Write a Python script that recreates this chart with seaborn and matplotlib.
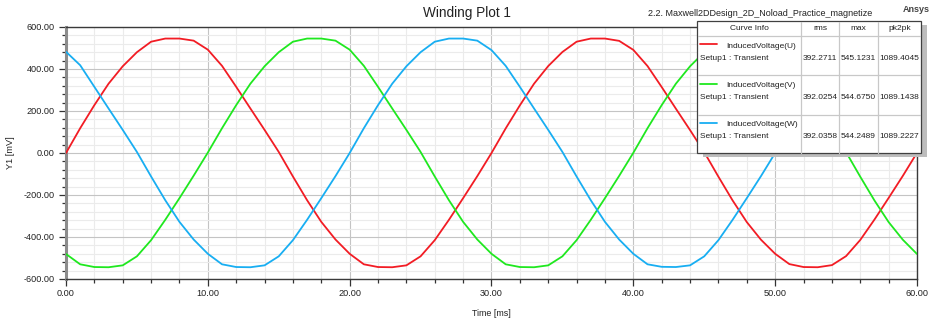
import matplotlib
matplotlib.use("Agg")
import matplotlib.pyplot as plt
import pandas as pd
import seaborn as sns
from matplotlib.ticker import MultipleLocator, FormatStrFormatter
from matplotlib.patches import Rectangle
from matplotlib.lines import Line2D

# ---------------- data ----------------
time_ms = [0, 1, 2, 3, 4, 5, 6, 7, 8, 9,
           10, 11, 12, 13, 14, 15, 16, 17, 18, 19,
           20, 21, 22, 23, 24, 25, 26, 27, 28, 29,
           30, 31, 32, 33, 34, 35, 36, 37, 38, 39,
           40, 41, 42, 43, 44, 45, 46, 47, 48, 49,
           50, 51, 52, 53, 54, 55, 56, 57, 58, 59, 60]

voltage_u = [0, 118, 228, 330, 413, 480, 530, 545, 545, 535,
             492, 415, 315, 212, 110, 5, -112, -225, -328, -412,
             -480, -530, -543, -544, -535, -492, -415, -318, -215, -110,
             0, 117, 227, 330, 414, 481, 530, 545, 545, 534,
             491, 414, 314, 211, 109, 4, -113, -226, -329, -413,
             -480, -529, -543, -544, -534, -491, -414, -317, -214, -109, 1]

voltage_v = [-481, -530, -543, -544, -535, -492, -415, -318, -215, -108,
             2, 118, 228, 330, 413, 480, 530, 545, 545, 535,
             492, 415, 315, 212, 110, 5, -112, -225, -328, -412,
             -480, -530, -543, -544, -535, -492, -415, -318, -215, -109,
             1, 118, 228, 330, 413, 480, 530, 544, 544, 534,
             491, 414, 314, 211, 109, 4, -113, -226, -329, -413, -481]

voltage_w = [482, 418, 315, 212, 110, 5, -112, -225, -328, -412,
             -480, -530, -543, -544, -535, -492, -415, -318, -215, -110,
             0, 118, 228, 330, 413, 480, 530, 545, 545, 535,
             490, 415, 315, 212, 110, 5, -112, -225, -328, -412,
             -480, -530, -542, -543, -535, -492, -415, -318, -215, -110,
             0, 118, 228, 330, 413, 480, 530, 544, 544, 534, 490]

curve_names = ["InducedVoltage(U)", "InducedVoltage(V)", "InducedVoltage(W)"]
curve_colors = ["#f21c24", "#1fe81f", "#18aef2"]
setup_label = "Setup1 : Transient"
stat_headers = ["Curve Info", "rms", "max", "pk2pk"]
rms_vals = ["392.2711", "392.0254", "392.0358"]
max_vals = ["545.1231", "544.6750", "544.2489"]
pk2pk_vals = ["1089.4045", "1089.1438", "1089.2227"]

x_ticks = [0, 10, 20, 30, 40, 50, 60]
y_ticks = [-600, -400, -200, 0, 200, 400, 600]

title_text = "Winding Plot 1"
design_text = "2.2. Maxwell2DDesign_2D_Noload_Practice_magnetize"
brand_text = "Ansys"
x_label = "Time [ms]"
y_label = "Y1 [mV]"

# ---------------- figure ----------------
sns.set_theme(style="white")
plt.rcParams["font.family"] = ["Liberation Sans", "DejaVu Sans"]
plt.rcParams["axes.unicode_minus"] = False

W, H = 937, 318
fig = plt.figure(figsize=(W / 100, H / 100), dpi=100)
fig.patch.set_facecolor("white")


def fx(px):
    return px / W


def fy(py):
    return 1 - py / H


ax = fig.add_axes([fx(66), fy(279), fx(917) - fx(66), fy(27) - fy(279)])

df = pd.concat([
    pd.DataFrame({"time": time_ms, "value": vals, "curve": name})
    for name, vals in zip(curve_names, [voltage_u, voltage_v, voltage_w])
])
sns.lineplot(data=df, x="time", y="value", hue="curve", hue_order=curve_names,
             palette=dict(zip(curve_names, curve_colors)), linewidth=1.3,
             legend=False, ax=ax, zorder=3)

ax.set_xlim(x_ticks[0], x_ticks[-1])
ax.set_ylim(y_ticks[0], y_ticks[-1])
ax.set_xticks(x_ticks)
ax.set_yticks(y_ticks)
ax.xaxis.set_minor_locator(MultipleLocator(2))
ax.yaxis.set_minor_locator(MultipleLocator(40))
ax.xaxis.set_major_formatter(FormatStrFormatter("%.2f"))
ax.yaxis.set_major_formatter(FormatStrFormatter("%.2f"))

ax.grid(which="major", color="#c4c4c4", linewidth=0.8, zorder=0)
ax.grid(which="minor", color="#ebebeb", linewidth=0.8, zorder=0)
ax.set_axisbelow(True)

ax.tick_params(axis="both", which="major", direction="out", length=5, width=0.9,
               color="#333333", labelsize=6.6, labelcolor="#222222",
               bottom=True, left=True, top=False, right=False)
ax.tick_params(axis="both", which="minor", direction="out", length=2.6, width=0.9,
               color="#333333", bottom=True, left=True, top=False, right=False)
ax.tick_params(axis="x", which="major", pad=2.5)
ax.tick_params(axis="y", which="major", pad=3.2)

for side in ["top", "right", "bottom"]:
    ax.spines[side].set_visible(True)
    ax.spines[side].set_color("#3a3a3a")
    ax.spines[side].set_linewidth(1.0)
ax.spines["left"].set_color("#8c8c8c")
ax.spines["left"].set_linewidth(2.2)

ax.set_xlabel(x_label, fontsize=6.4, color="#222222", labelpad=5)
ax.set_ylabel(y_label, fontsize=6.6, color="#222222", labelpad=6)
ax.xaxis.set_label_coords(0.5, (fy(309) - fy(279)) / (fy(27) - fy(279)))
ax.yaxis.set_label_coords((fx(15) - fx(66)) / (fx(917) - fx(66)), 0.5)

fig.text(fx(467), fy(13), title_text, ha="center", va="center", fontsize=9.8, color="#222222")
fig.text(fx(648), fy(13), design_text, ha="left", va="center", fontsize=6.5, color="#222222")
fig.text(fx(916), fy(10), brand_text, ha="center", va="center", fontsize=6.5,
         fontweight="bold", color="#444444")

# ---------------- curve info table (legend) ----------------
box_l, box_r, box_t, box_b = 697, 921, 21, 153
col_edges = [697, 801, 839, 878, 921]
header_bottom = 36
row_h = 39.3

fig.add_artist(Rectangle((fx(box_l + 6), fy(box_b + 4)), fx(box_r - box_l), fy(box_t) - fy(box_b),
                         transform=fig.transFigure, facecolor="#bdbdbd", edgecolor="none", zorder=10))
fig.add_artist(Rectangle((fx(box_l), fy(box_b)), fx(box_r - box_l), fy(box_t) - fy(box_b),
                         transform=fig.transFigure, facecolor="white", edgecolor="#404040",
                         linewidth=0.9, zorder=11))

sep_color = "#c8c8c8"
for xc in col_edges[1:-1]:
    fig.add_artist(Line2D([fx(xc), fx(xc)], [fy(box_t + 0.5), fy(box_b - 0.5)],
                          transform=fig.transFigure, color=sep_color, linewidth=0.9, zorder=12))
for i in range(3):
    yl = header_bottom + i * row_h
    fig.add_artist(Line2D([fx(box_l + 0.5), fx(box_r - 0.5)], [fy(yl), fy(yl)],
                          transform=fig.transFigure, color=sep_color, linewidth=0.9, zorder=12))

col_centers = [(col_edges[k] + col_edges[k + 1]) / 2 for k in range(4)]
tfs = 6.0
for k, head in enumerate(stat_headers):
    fig.text(fx(col_centers[k]), fy(29), head, ha="center", va="center",
             fontsize=tfs, color="#222222", zorder=13)

for i, (name, col) in enumerate(zip(curve_names, curve_colors)):
    base = header_bottom + i * row_h
    fig.add_artist(Line2D([fx(700), fx(717)], [fy(base + 8.3), fy(base + 8.3)],
                          transform=fig.transFigure, color=col, linewidth=1.3, zorder=13))
    fig.text(fx(726), fy(base + 10.3), name, ha="left", va="center", fontsize=tfs,
             color="#222222", zorder=13)
    fig.text(fx(700), fy(base + 22.2), setup_label, ha="left", va="center", fontsize=tfs,
             color="#222222", zorder=13)
    for k, val in enumerate([rms_vals[i], max_vals[i], pk2pk_vals[i]]):
        fig.text(fx(col_centers[k + 1]), fy(base + 22.2), val, ha="center", va="center",
                 fontsize=tfs, color="#222222", zorder=13)

fig.savefig("out.png", dpi=100, facecolor="white")
